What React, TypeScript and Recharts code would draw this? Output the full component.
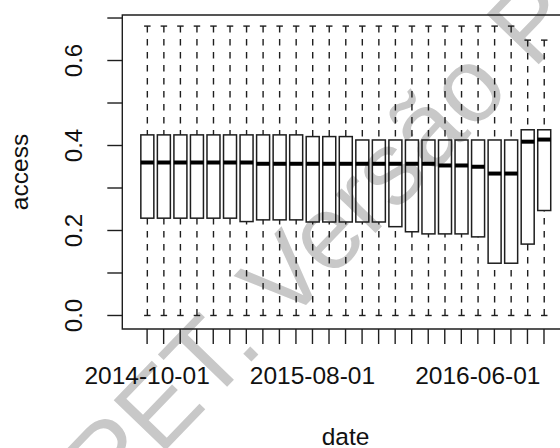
import React from 'react';
import { ComposedChart, Bar, XAxis, YAxis, ReferenceArea, Label } from 'recharts';

// monthly boxes, one per date
const dates = [
    '2014-10-01', '2014-11-01', '2014-12-01', '2015-01-01', '2015-02-01',
    '2015-03-01', '2015-04-01', '2015-05-01', '2015-06-01', '2015-07-01',
    '2015-08-01', '2015-09-01', '2015-10-01', '2015-11-01', '2015-12-01',
    '2016-01-01', '2016-02-01', '2016-03-01', '2016-04-01', '2016-05-01',
    '2016-06-01', '2016-07-01', '2016-08-01', '2016-09-01', '2016-10-01',
];
const lows = [0, 0, 0, 0, 0, 0, 0, 0, 0, 0, 0, 0, 0, 0, 0, 0, 0, 0, 0, 0, 0, 0, 0, 0, 0];
const q1s = [
    0.229, 0.229, 0.229, 0.229, 0.229, 0.229, 0.221, 0.225, 0.225, 0.225,
    0.22, 0.22, 0.22, 0.22, 0.22, 0.209, 0.197, 0.192, 0.192, 0.192,
    0.185, 0.123, 0.123, 0.168, 0.247,
];
const medians = [
    0.36, 0.36, 0.36, 0.36, 0.36, 0.36, 0.36, 0.357, 0.357, 0.357,
    0.357, 0.357, 0.357, 0.357, 0.357, 0.357, 0.357, 0.357, 0.353, 0.353,
    0.35, 0.334, 0.334, 0.409, 0.414,
];
const q3s = [
    0.425, 0.425, 0.425, 0.425, 0.425, 0.425, 0.425, 0.425, 0.425, 0.425,
    0.421, 0.421, 0.421, 0.413, 0.413, 0.413, 0.413, 0.413, 0.413, 0.413,
    0.413, 0.413, 0.413, 0.437, 0.437,
];
const highs = [
    0.681, 0.681, 0.681, 0.681, 0.681, 0.681, 0.681, 0.681, 0.681, 0.681,
    0.681, 0.681, 0.681, 0.681, 0.681, 0.681, 0.681, 0.681, 0.681, 0.681,
    0.681, 0.681, 0.681, 0.648, 0.648,
];

const yTicks = [0, 0.1, 0.2, 0.3, 0.4, 0.5, 0.6, 0.7];
const yLabelled = [0, 0.2, 0.4, 0.6];
const xLabelled = ['2014-10-01', '2015-08-01', '2016-06-01'];

const data = dates.map((d, i) => ({
    idx: i + 1,
    date: d,
    lo: lows[i],
    q1: q1s[i],
    med: medians[i],
    q3: q3s[i],
    hi: highs[i],
    box: [q1s[i], q3s[i]],
}));
const xTicks = data.map((d) => d.idx);

const FONT = '"Liberation Sans", Arial, Helvetica, sans-serif';
const INK = '#1e1e1e';

const BoxShape = (props: any) => {
    const { x, y, width, height, payload } = props;
    if (!payload || height <= 0) return null;
    // pixels per unit from the bar the library placed
    const k = height / (payload.q3 - payload.q1);
    const yOf = (v: number) => y + (payload.q3 - v) * k;
    const cx = x + width / 2;
    const cap = width / 4;
    return (
        <g>
            <line x1={cx} x2={cx} y1={yOf(payload.hi)} y2={y} stroke={INK} strokeWidth={1.4} strokeDasharray="6.5 6.5" />
            <line x1={cx} x2={cx} y1={yOf(payload.lo)} y2={y + height} stroke={INK} strokeWidth={1.4} strokeDasharray="6.5 6.5" />
            <line x1={cx - cap} x2={cx + cap} y1={yOf(payload.hi)} y2={yOf(payload.hi)} stroke={INK} strokeWidth={1.4} />
            <line x1={cx - cap} x2={cx + cap} y1={yOf(payload.lo)} y2={yOf(payload.lo)} stroke={INK} strokeWidth={1.4} />
            <rect x={x} y={y} width={width} height={height} fill="none" stroke={INK} strokeWidth={1.5} />
            <line x1={x} x2={x + width} y1={yOf(payload.med)} y2={yOf(payload.med)} stroke="#000" strokeWidth={4} />
        </g>
    );
};

const YTick = ({ x, y, payload }: any) => {
    if (!yLabelled.includes(payload.value)) return null;
    const bx = x - 25.6;
    return (
        <text x={bx} y={y} transform={`rotate(-90 ${bx} ${y})`} textAnchor="middle" fontFamily={FONT} fontSize={24} fill="#111">
            {payload.value.toFixed(1)}
        </text>
    );
};

const XTick = ({ x, y, payload }: any) => {
    const label = dates[payload.value - 1];
    if (!xLabelled.includes(label)) return null;
    return (
        <text x={x} y={y + 40} textAnchor="middle" fontFamily={FONT} fontSize={24.5} fill="#111">
            {label}
        </text>
    );
};

const Watermark = () => (
    <svg width={560} height={448} style={{ position: 'absolute', left: 0, top: 0 }}>
        <text
            x={111}
            y={507}
            transform="rotate(-46 111 507)"
            fontFamily={FONT}
            fontSize={105}
            fill="#c8c8c8"
        >
            PET. Versão Pro
        </text>
    </svg>
);

export default function App() {
    return (
        <div style={{ position: 'absolute', left: 0, top: 0, width: 560, height: 448, overflow: 'hidden', background: '#fff' }}>
            <Watermark />
            <div style={{ position: 'absolute', left: 0, top: 0 }}>
                <ComposedChart width={580} height={448} data={data} margin={{ top: 15, right: 11.2, bottom: 59, left: 0 }}>
                    <XAxis
                        dataKey="idx"
                        type="number"
                        domain={[-0.5, 26.5]}
                        ticks={xTicks}
                        interval={0}
                        axisLine={false}
                        tickSize={15}
                        tickMargin={0}
                        tickLine={{ stroke: INK, strokeWidth: 1.4 }}
                        tick={<XTick />}
                        height={60}
                    >
                        <Label
                            content={({ viewBox }: any) => (
                                <text x={viewBox.x + viewBox.width / 2} y={viewBox.y + 116} textAnchor="middle" fontFamily={FONT} fontSize={24.5} fill="#111">
                                    date
                                </text>
                            )}
                        />
                    </XAxis>
                    <YAxis
                        type="number"
                        domain={[-0.0318, 0.7071]}
                        allowDataOverflow
                        ticks={yTicks}
                        interval={0}
                        axisLine={false}
                        tickSize={15}
                        tickMargin={0}
                        tickLine={{ stroke: INK, strokeWidth: 1.4 }}
                        tick={<YTick />}
                        width={122.3}
                    >
                        <Label
                            content={({ viewBox }: any) => {
                                const cy = viewBox.y + viewBox.height / 2;
                                return (
                                    <text x={27.5} y={cy} transform={`rotate(-90 27.5 ${cy})`} textAnchor="middle" fontFamily={FONT} fontSize={24.5} fill="#111">
                                        access
                                    </text>
                                );
                            }}
                        />
                    </YAxis>
                    <ReferenceArea x1={-0.5} x2={26.5} y1={-0.0318} y2={0.7071} fill="none" stroke={INK} strokeWidth={1.4} ifOverflow="visible" />
                    <Bar dataKey="box" barSize={13} shape={<BoxShape />} isAnimationActive={false} />
                </ComposedChart>
            </div>
        </div>
    );
}
